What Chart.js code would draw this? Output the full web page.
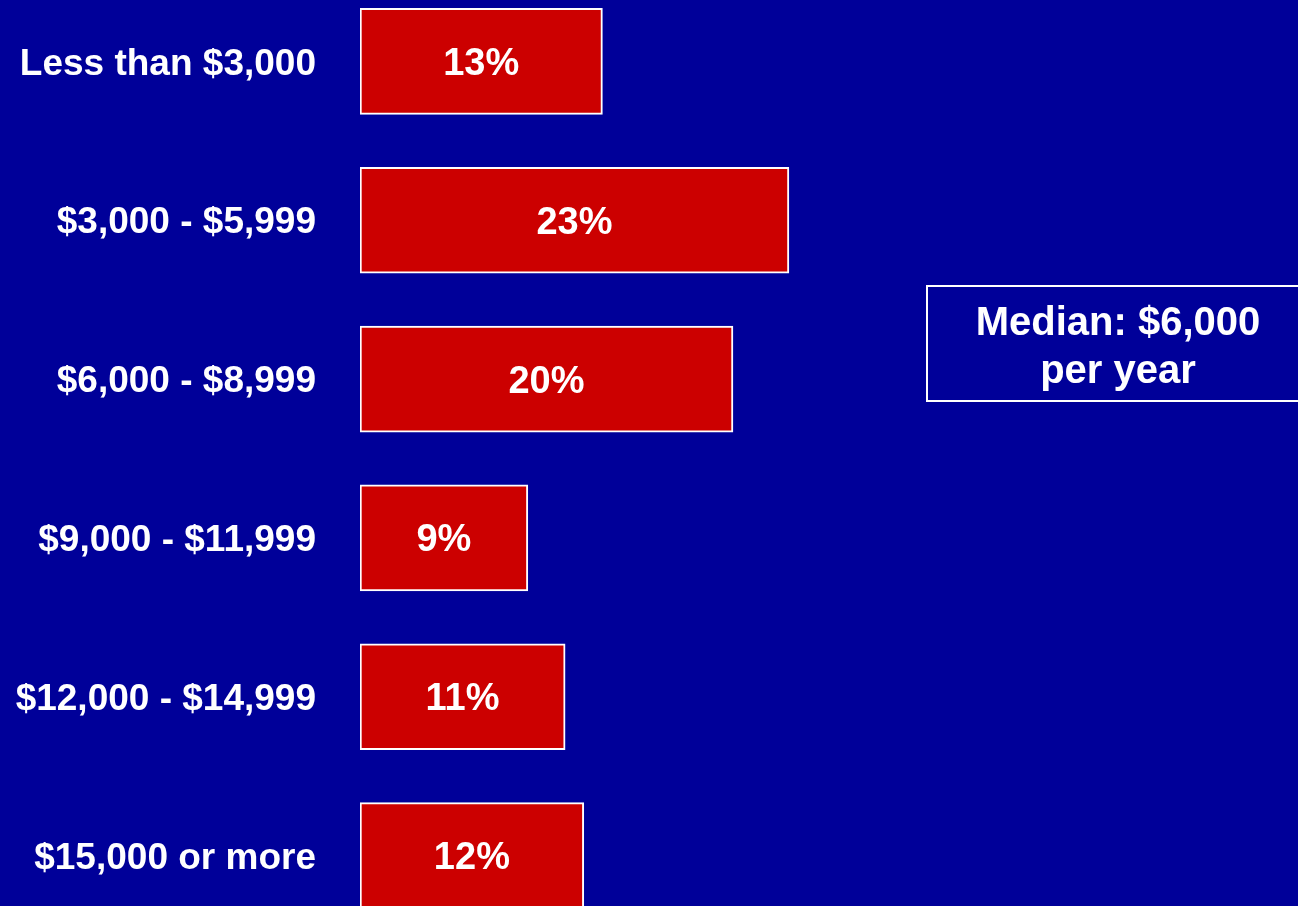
<!DOCTYPE html>
<html>
<head>
<meta charset="utf-8">
<script src="https://cdn.jsdelivr.net/npm/chart.js@4/dist/chart.umd.min.js"></script>
<style>
  html, body { margin: 0; padding: 0; background: #000099; overflow: hidden; }
  #wrap { position: absolute; left: 0; top: -18px; width: 1298px; height: 953px; }
</style>
</head>
<body>
<div id="wrap"><canvas id="incomeChart" width="1298" height="953"></canvas></div>
<script>
// income brackets
const categories = [
  "Less than $3,000",
  "$3,000 - $5,999",
  "$6,000 - $8,999",
  "$9,000 - $11,999",
  "$12,000 - $14,999",
  "$15,000 or more",
];
const percents = [13, 23, 20, 9, 11, 12];
const medianLines = ["Median: $6,000", "per year"];

const FONT = "'Liberation Sans', Arial, Helvetica, sans-serif";

// value text in the middle of each bar
const barValues = {
  id: "barValues",
  afterDatasetsDraw(chart) {
    const ctx = chart.ctx;
    const meta = chart.getDatasetMeta(0);
    ctx.save();
    ctx.fillStyle = "#ffffff";
    ctx.font = "bold 38px " + FONT;
    ctx.textAlign = "center";
    ctx.textBaseline = "middle";
    meta.data.forEach((bar, i) => {
      const p = bar.getProps(["x", "y", "base"], true);
      ctx.fillText(percents[i] + "%", (p.x + p.base) / 2, p.y + 3);
    });
    ctx.restore();
  },
};

// median box on the right
const medianBox = {
  id: "medianBox",
  afterDraw(chart) {
    const ctx = chart.ctx;
    ctx.save();
    ctx.strokeStyle = "#ffffff";
    ctx.lineWidth = 2;
    ctx.strokeRect(927, 304, 400, 115);
    ctx.fillStyle = "#ffffff";
    ctx.font = "bold 40px " + FONT;
    ctx.textAlign = "center";
    ctx.textBaseline = "middle";
    ctx.fillText(medianLines[0], 1118, 342);
    ctx.fillText(medianLines[1], 1118, 390);
    ctx.restore();
  },
};

new Chart("incomeChart", {
  type: "bar",
  data: {
    labels: categories,
    datasets: [
      {
        data: percents,
        backgroundColor: "#cc0000",
        borderColor: "#ffffff",
        borderWidth: 2,
        borderSkipped: false,
        barThickness: 106,
      },
    ],
  },
  options: {
    indexAxis: "y",
    responsive: false,
    animation: false,
    layout: { padding: 0 },
    plugins: {
      legend: { display: false },
      tooltip: { enabled: false },
    },
    scales: {
      x: {
        display: false,
        min: 0,
        max: 50.3,
      },
      y: {
        grid: { display: false, drawTicks: false },
        border: { display: false },
        afterFit(scale) {
          scale.width = 360;
          scale.paddingTop = 0;
          scale.paddingBottom = 0;
        },
        ticks: {
          color: "#ffffff",
          padding: 44,
          labelOffset: 3,
          font: { size: 37, weight: "bold", family: FONT },
        },
      },
    },
  },
  plugins: [barValues, medianBox],
});
</script>
</body>
</html>
